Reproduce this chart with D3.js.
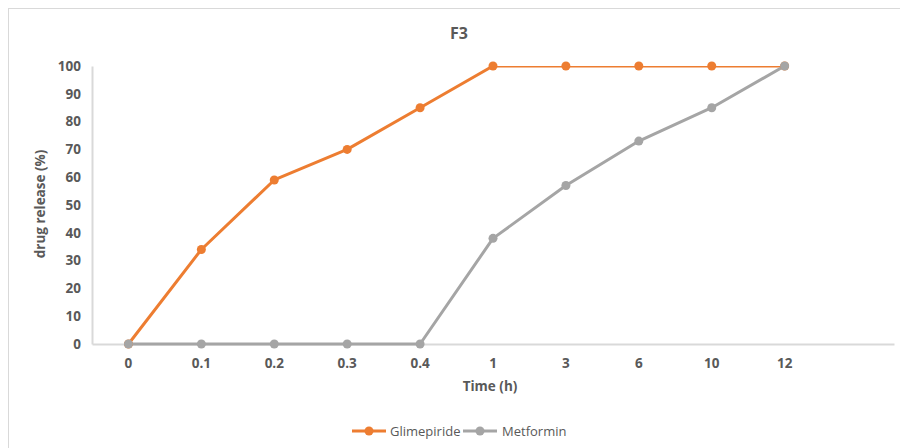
<!DOCTYPE html>
<html>
<head>
<meta charset="utf-8">
<script src="https://cdn.jsdelivr.net/npm/d3@7"></script>
<style>
  html, body { margin: 0; padding: 0; background: #fff; }
  svg { display: block; font-family: "Open Sans", "Liberation Sans", sans-serif; }
</style>
</head>
<body>
<svg id="chart" width="900" height="448"></svg>
<script>
// Sampling times (h); the trailing blank slot leaves room at the end of the axis
const categories = ["0", "0.1", "0.2", "0.3", "0.4", "1", "3", "6", "10", "12", ""];
const glimepiride = [0, 34, 59, 70, 85, 100, 100, 100, 100, 100];
const metformin = [0, 0, 0, 0, 0, 38, 57, 73, 85, 100];
const yTicks = [0, 10, 20, 30, 40, 50, 60, 70, 80, 90, 100];

const series = [
  { name: "Glimepiride", values: glimepiride, color: "#ED7D31" },
  { name: "Metformin", values: metformin, color: "#A5A5A5" }
];

const svg = d3.select("#chart");
const plot = { left: 92, right: 894, top: 66, bottom: 344 };
const textColor = "#595959";
const axisColor = "#D9D9D9";

// outer frame
svg.append("rect")
  .attr("x", 8.5).attr("y", 8.5)
  .attr("width", 900).attr("height", 460)
  .attr("fill", "none").attr("stroke", "#D9D9D9").attr("stroke-width", 1);

const x = d3.scaleBand().domain(categories).range([plot.left, plot.right]);
const y = d3.scaleLinear().domain([0, 100]).range([plot.bottom, plot.top]);

// title
svg.append("text")
  .attr("x", 459).attr("y", 39)
  .attr("text-anchor", "middle")
  .attr("fill", textColor)
  .attr("font-size", 16).attr("font-weight", "bold")
  .text("F3");

// y axis
const yAxis = svg.append("g")
  .attr("transform", `translate(${plot.left},0)`)
  .call(d3.axisLeft(y).tickValues(yTicks).tickSize(0).tickPadding(11));
yAxis.select(".domain").attr("stroke", axisColor).attr("stroke-width", 2);
yAxis.selectAll("text")
  .attr("fill", textColor).attr("font-size", 13.5).attr("font-weight", "bold")
  .attr("font-family", "Open Sans, Liberation Sans, sans-serif");

// x axis
const xAxis = svg.append("g")
  .attr("transform", `translate(0,${plot.bottom})`)
  .call(d3.axisBottom(x).tickSize(0).tickPadding(14));
xAxis.select(".domain").attr("stroke", axisColor).attr("stroke-width", 2);
xAxis.selectAll("text")
  .attr("fill", textColor).attr("font-size", 13.5).attr("font-weight", "bold")
  .attr("font-family", "Open Sans, Liberation Sans, sans-serif");

// axis titles
svg.append("text")
  .attr("x", 490).attr("y", 391)
  .attr("text-anchor", "middle")
  .attr("fill", textColor)
  .attr("font-size", 13.5).attr("font-weight", "bold")
  .text("Time (h)");

svg.append("text")
  .attr("transform", "translate(45,204) rotate(-90)")
  .attr("text-anchor", "middle")
  .attr("fill", textColor)
  .attr("font-size", 13.5).attr("font-weight", "bold")
  .text("drug release (%)");

// lines are clipped to the plot area, markers are not
svg.append("clipPath").attr("id", "plotClip")
  .append("rect")
  .attr("x", plot.left).attr("y", plot.top)
  .attr("width", plot.right - plot.left).attr("height", plot.bottom - plot.top + 10);

const line = d3.line()
  .x((d, i) => x(categories[i]) + x.bandwidth() / 2)
  .y(d => y(d));

series.forEach(s => {
  svg.append("path")
    .datum(s.values)
    .attr("d", line)
    .attr("fill", "none")
    .attr("stroke", s.color)
    .attr("stroke-width", 3)
    .attr("stroke-linejoin", "round")
    .attr("clip-path", "url(#plotClip)");
});

series.forEach(s => {
  svg.append("g").selectAll("circle")
    .data(s.values)
    .join("circle")
    .attr("cx", (d, i) => x(categories[i]) + x.bandwidth() / 2)
    .attr("cy", d => y(d))
    .attr("r", 4.5)
    .attr("fill", s.color);
});

// legend
const legend = svg.append("g");
const legendItems = [
  { x0: 352, tx: 390 },
  { x0: 463, tx: 502 }
];
series.forEach((s, i) => {
  const g = legend.append("g");
  const { x0, tx } = legendItems[i];
  g.append("line")
    .attr("x1", x0).attr("x2", x0 + 34)
    .attr("y1", 431).attr("y2", 431)
    .attr("stroke", s.color).attr("stroke-width", 3);
  g.append("circle")
    .attr("cx", x0 + 17).attr("cy", 431).attr("r", 4.5)
    .attr("fill", s.color);
  g.append("text")
    .attr("x", tx).attr("y", 436)
    .attr("fill", textColor)
    .attr("font-size", 13)
    .text(s.name);
});
</script>
</body>
</html>
